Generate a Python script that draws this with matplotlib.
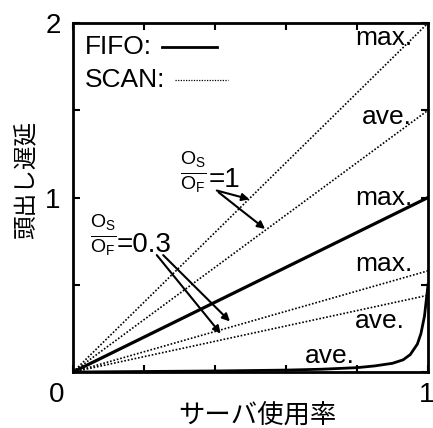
import numpy as np
import matplotlib
matplotlib.use('Agg')
import matplotlib.pyplot as plt
from matplotlib import rcParams

rcParams.update({
    "font.family": ['Liberation Sans Narrow', 'Liberation Sans', 'DejaVu Sans'],
    "mathtext.fontset": 'custom',
    "mathtext.rm": 'Liberation Sans',
    "mathtext.it": 'Liberation Sans',
    "axes.unicode_minus": False,
})
jp = ['Noto Sans CJK JP', 'DejaVu Sans']

# data
u = [0.0, 1.0]
scan_max_1 = [0.0, 2.0]      # Os/OF = 1
scan_ave_1 = [0.0, 1.5]
fifo_max = [0.0, 1.0]
scan_max_03 = [0.0, 0.58]    # Os/OF = 0.3
scan_ave_03 = [0.0, 0.44]
u_fifo_ave = [0.0, 0.2, 0.4, 0.6, 0.7, 0.8, 0.85, 0.9, 0.93, 0.95, 0.97, 0.98, 0.99, 1.0]
fifo_ave = [0.0, 0.003, 0.006, 0.011, 0.016, 0.025, 0.035, 0.05, 0.07, 0.1, 0.16, 0.22, 0.32, 0.5]

fig = plt.figure(figsize=(4.33, 4.28), dpi=100)
ax = fig.add_axes([0.1686, 0.1308, 0.8199, 0.8154])

dot = (0, (1, 1.1))
ax.plot(u, scan_max_1, color='k', lw=1.2, linestyle=dot)
ax.plot(u, scan_ave_1, color='k', lw=1.2, linestyle=dot)
ax.plot(u, scan_max_03, color='k', lw=1.2, linestyle=dot)
ax.plot(u, scan_ave_03, color='k', lw=1.2, linestyle=dot)
ax.plot(u, fifo_max, color='k', lw=2.3)
ax.plot(u_fifo_ave, fifo_ave, color='k', lw=2.0)

# legend drawn by hand (text first, key after it)
lfs = 19
ax.text(0.034, 0.931, 'FIFO:', transform=ax.transAxes, ha='left', va='center', fontsize=lfs)
ax.plot([0.251, 0.406], [0.931, 0.931], transform=ax.transAxes, color='k', lw=2.0)
ax.text(0.034, 0.837, 'SCAN:', transform=ax.transAxes, ha='left', va='center', fontsize=lfs)
ax.plot([0.287, 0.437], [0.837, 0.837], transform=ax.transAxes, color='k', lw=0.9, linestyle=dot)

# curve labels
fs = 19
ax.text(0.955, 1.915, 'max.', ha='right', va='center', fontsize=fs)
ax.text(0.955, 1.46, 'ave.', ha='right', va='center', fontsize=fs)
ax.text(0.955, 1.00, 'max.', ha='right', va='center', fontsize=fs)
ax.text(0.955, 0.62, 'max.', ha='right', va='center', fontsize=fs)
ax.text(0.935, 0.29, 'ave.', ha='right', va='center', fontsize=fs)
ax.text(0.795, 0.09, 'ave.', ha='right', va='center', fontsize=fs)

# ratio annotations
ax.text(0.338, 1.146, r'$\frac{O_S}{O_F}$', ha='center', va='center', fontsize=20)
ax.text(0.383, 1.10, '=1', ha='left', va='center', fontsize=20)
ax.text(0.085, 0.785, r'$\frac{O_S}{O_F}$', ha='center', va='center', fontsize=20)
ax.text(0.123, 0.728, '=0.3', ha='left', va='center', fontsize=20)

ap = dict(arrowstyle='-|>', color='k', lw=1.5, mutation_scale=11, shrinkA=0, shrinkB=0)
ax.annotate('', xy=(0.497, 0.99), xytext=(0.405, 1.04), arrowprops=ap)
ax.annotate('', xy=(0.541, 0.82), xytext=(0.41, 1.03), arrowprops=ap)
ax.annotate('', xy=(0.442, 0.29), xytext=(0.254, 0.67), arrowprops=ap)
ax.annotate('', xy=(0.416, 0.22), xytext=(0.236, 0.67), arrowprops=ap)

ax.set_xlim(0, 1)
ax.set_ylim(0, 2)
ax.set_xticks([0, 0.2, 0.4, 0.6, 0.8, 1.0])
ax.set_xticklabels([])
ax.set_yticks([0, 0.5, 1.0, 1.5, 2.0])
ax.set_yticklabels(['', '', '1', '', '2'])
ax.tick_params(direction='in', length=5, width=1.5, top=True, right=True,
               labelsize=20, pad=9)
ax.text(-0.045, -0.065, '0', transform=ax.transAxes, ha='center', va='center', fontsize=20)
ax.text(1.018, -0.065, '1', transform=ax.transAxes, ha='right', va='center', fontsize=20)
for s in ax.spines.values():
    s.set_linewidth(2.0)

ax.set_xlabel('サーバ使用率', family=jp, fontsize=19)
ax.xaxis.set_label_coords(0.52, -0.085)
ax.set_ylabel('頭出し遅延', family=jp, fontsize=17)
ax.yaxis.set_label_coords(-0.10, 0.55)

plt.savefig('out.png', dpi=100)
